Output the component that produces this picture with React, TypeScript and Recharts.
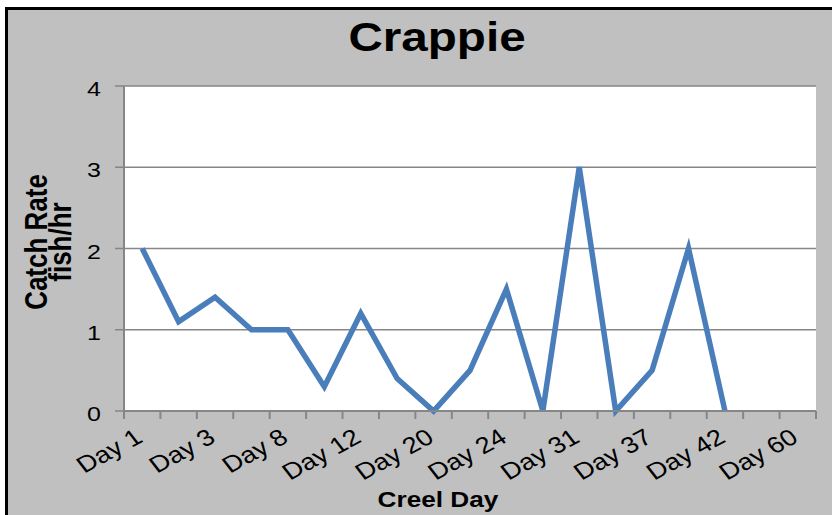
import { LineChart, Line, XAxis, YAxis, CartesianGrid } from "recharts";

const days = [
  "Day 1", "Day 2", "Day 3", "Day 5", "Day 8", "Day 10", "Day 12", "Day 15",
  "Day 20", "Day 22", "Day 24", "Day 27", "Day 31", "Day 34", "Day 37",
  "Day 39", "Day 42", "Day 50", "Day 60",
];
const catchRate = [
  2, 1.1, 1.4, 1.0, 1.0, 0.3, 1.2, 0.4, 0, 0.5, 1.5, 0, 3, 0, 0.5, 2, 0, null, null,
];
const yTicks = [0, 1, 2, 3, 4];

const data = days.map((day, i) => ({ day, rate: catchRate[i] }));

const GRAY_BG = "#c0c0c0";
const AXIS = "#868686";
const BLUE = "#4a7ebb";
const FONT = "'Liberation Sans', Arial, sans-serif";
const STRETCH = 1.19;
const X_TICK = 8;
const X_MARGIN = 2;

function DayTick(props: any) {
  const { x, y, payload } = props;
  const index = props.index ?? payload?.index ?? 0;
  const half = payload?.offset || 18.2;
  const axisY = y - X_TICK - X_MARGIN;
  return (
    <g>
      <line x1={x - half} y1={axisY} x2={x - half} y2={axisY + X_TICK} stroke={AXIS} strokeWidth={2} />
      {index === days.length - 1 && (
        <line x1={x + half} y1={axisY} x2={x + half} y2={axisY + X_TICK} stroke={AXIS} strokeWidth={2} />
      )}
      {index % 2 === 0 && (
        <text
          transform={`translate(${x + 2},${axisY + 30}) scale(${STRETCH},1) rotate(-33)`}
          textAnchor="end"
          fontSize={23}
          fontFamily={FONT}
          fill="#000"
        >
          {payload.value}
        </text>
      )}
    </g>
  );
}

function RateTick(props: any) {
  const { x, y, payload } = props;
  return (
    <text
      transform={`translate(${x},${y + 10}) scale(${STRETCH},1)`}
      textAnchor="end"
      fontSize={21}
      fontFamily={FONT}
      fill="#000"
    >
      {payload.value}
    </text>
  );
}

function YTitle() {
  return (
    <g fontFamily={FONT} fontWeight="bold" fontSize={26} fill="#000">
      <text transform={`translate(47,242) scale(${STRETCH},1) rotate(-90)`} textAnchor="middle">
        Catch Rate
      </text>
      <text transform={`translate(71,242) scale(${STRETCH},1) rotate(-90)`} textAnchor="middle">
        fish/hr
      </text>
    </g>
  );
}

function XTitle() {
  return (
    <text
      transform={`translate(438,507) scale(${STRETCH},1)`}
      textAnchor="middle"
      fontFamily={FONT}
      fontWeight="bold"
      fontSize={22}
      fill="#000"
    >
      Creel Day
    </text>
  );
}

export default function App() {
  return (
    <div style={{ position: "absolute", left: 0, top: 0, width: 832, height: 515, background: "#fff", overflow: "hidden" }}>
      <div
        style={{
          position: "absolute",
          left: 5,
          top: 7,
          right: 0,
          bottom: 0,
          background: GRAY_BG,
          borderTop: "3px solid #000",
          borderLeft: "3px solid #000",
        }}
      />
      <div
        style={{
          position: "absolute",
          left: 436.5,
          top: 17,
          transform: `translateX(-50%) scaleX(${STRETCH})`,
          fontFamily: FONT,
          fontWeight: "bold",
          fontSize: 40,
          lineHeight: "40px",
          whiteSpace: "nowrap",
        }}
      >
        Crappie
      </div>
      <div style={{ position: "absolute", left: 0, top: 0 }}>
        <LineChart width={832} height={515} data={data} margin={{ top: 86, right: 16, bottom: 0, left: 0 }}>
          <CartesianGrid vertical={false} fill="#fff" stroke={AXIS} strokeWidth={1.5} />
          <XAxis
            dataKey="day"
            scale="band"
            interval={0}
            height={104}
            tickLine={false}
            tickSize={X_TICK}
            tickMargin={X_MARGIN}
            axisLine={{ stroke: AXIS, strokeWidth: 2 }}
            tick={<DayTick />}
            label={{ content: () => <XTitle /> }}
          />
          <YAxis
            width={124}
            domain={[0, 4]}
            ticks={yTicks}
            interval={0}
            tickSize={9}
            tickMargin={14}
            tickLine={{ stroke: AXIS, strokeWidth: 1.5 }}
            axisLine={{ stroke: AXIS, strokeWidth: 2 }}
            tick={<RateTick />}
            label={{ content: () => <YTitle /> }}
          />
          <Line
            type="linear"
            dataKey="rate"
            stroke={BLUE}
            strokeWidth={5.5}
            dot={false}
            activeDot={false}
            isAnimationActive={false}
          />
        </LineChart>
      </div>
    </div>
  );
}
